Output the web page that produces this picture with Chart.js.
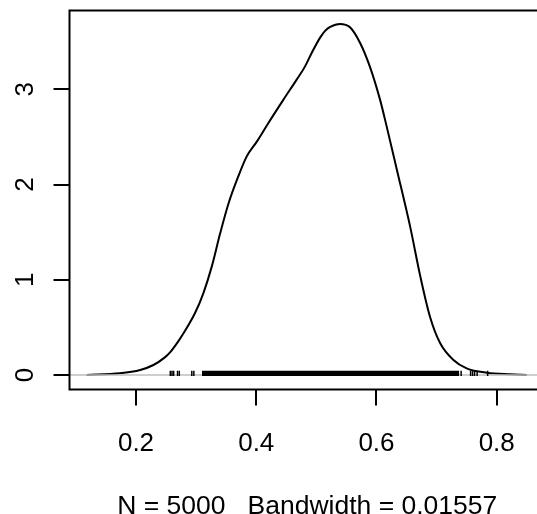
<!DOCTYPE html>
<html>
<head>
<meta charset="utf-8">
<script src="https://cdn.jsdelivr.net/npm/chart.js@4/dist/chart.umd.min.js"></script>
<style>
  html, body { margin: 0; padding: 0; background: #fff; overflow: hidden; }
  #wrap { width: 537px; height: 514px; overflow: hidden; }
</style>
</head>
<body>
<div id="wrap"><canvas id="chart" width="560" height="514"></canvas></div>
<script>
// density curve
const densityX = [0.118, 0.173, 0.207, 0.229, 0.248, 0.257, 0.270, 0.279, 0.298, 0.312,
  0.326, 0.340, 0.354, 0.370, 0.384, 0.401, 0.420, 0.445, 0.467, 0.481, 0.492, 0.506,
  0.5145, 0.523, 0.539, 0.556, 0.573, 0.589, 0.606, 0.617, 0.634, 0.656, 0.673, 0.689,
  0.706, 0.728, 0.750, 0.784, 0.822, 0.850];
const densityY = [0.000, 0.018, 0.053, 0.105, 0.185, 0.240, 0.350, 0.438, 0.648, 0.858,
  1.138, 1.488, 1.804, 2.083, 2.293, 2.451, 2.644, 2.889, 3.099, 3.238, 3.379, 3.540,
  3.613, 3.655, 3.687, 3.652, 3.484, 3.238, 2.889, 2.608, 2.153, 1.558, 1.033, 0.612,
  0.333, 0.158, 0.070, 0.024, 0.007, 0.000];

// rug: isolated ticks, plus the solid block where ticks merge
const rugTicks = [0.2571, 0.2599, 0.2626, 0.2691, 0.2720, 0.2928, 0.2962,
  0.7408, 0.7566, 0.7599, 0.7632, 0.7674, 0.7849];
const rugBand = [0.3098, 0.7374];
const rugLevel = 0.016;

const xTicks = [0.2, 0.4, 0.6, 0.8];
const yTicks = [0, 1, 2, 3];
const xRange = [0.0894, 0.8803];
const yRange = [-0.1523, 3.8275];
const xLabel = "N = 5000   Bandwidth = 0.01557";

const FONT = '26px "Liberation Sans", Arial, sans-serif';
const LABEL_FONT = '26.5px "Liberation Sans", Arial, sans-serif';

// R-style frame, outward ticks and labels
const rAxes = {
  id: "rAxes",
  afterDraw(chart) {
    const { ctx, chartArea: a, scales: { x, y } } = chart;
    ctx.save();
    ctx.strokeStyle = "#000";
    ctx.lineWidth = 2;
    ctx.strokeRect(a.left, a.top, a.right - a.left, a.bottom - a.top);

    ctx.beginPath();
    xTicks.forEach(v => {
      const px = Math.round(x.getPixelForValue(v));
      ctx.moveTo(px, a.bottom);
      ctx.lineTo(px, a.bottom + 16);
    });
    yTicks.forEach(v => {
      const py = Math.round(y.getPixelForValue(v));
      ctx.moveTo(a.left, py);
      ctx.lineTo(a.left - 16, py);
    });
    ctx.stroke();

    ctx.fillStyle = "#000";
    ctx.font = FONT;
    ctx.textAlign = "center";
    ctx.textBaseline = "alphabetic";
    xTicks.forEach(v => {
      ctx.fillText(v.toFixed(1), x.getPixelForValue(v), 451);
    });
    yTicks.forEach(v => {
      ctx.save();
      ctx.translate(33, y.getPixelForValue(v));
      ctx.rotate(-Math.PI / 2);
      ctx.fillText(String(v), 0, 0);
      ctx.restore();
    });
    ctx.font = LABEL_FONT;
    ctx.fillText(xLabel, (a.left + a.right) / 2, 513.5);
    ctx.restore();
  }
};

new Chart(document.getElementById("chart"), {
  type: "line",
  data: {
    datasets: [
      {
        // rug ticks
        type: "scatter",
        data: rugTicks.map(v => ({ x: v, y: rugLevel })),
        pointStyle: "line",
        rotation: 90,
        radius: 2.6,
        borderColor: "#000",
        borderWidth: 1.5,
        showLine: false
      },
      {
        // dense part of the rug
        data: rugBand.map(v => ({ x: v, y: rugLevel })),
        borderColor: "#000",
        borderWidth: 5.2,
        borderCapStyle: "butt",
        pointRadius: 0
      },
      {
        // zero line
        data: xRange.map(v => ({ x: v, y: 0 })),
        borderColor: "#bebebe",
        borderWidth: 1.5,
        pointRadius: 0
      },
      {
        data: densityX.map((v, i) => ({ x: v, y: densityY[i] })),
        borderColor: "#000",
        borderWidth: 2,
        cubicInterpolationMode: "monotone",
        pointRadius: 0,
        fill: false
      }
    ]
  },
  options: {
    responsive: false,
    animation: false,
    layout: { padding: { top: 10.5, right: 15, left: 0, bottom: 0 } },
    plugins: { legend: { display: false }, tooltip: { enabled: false } },
    scales: {
      x: {
        type: "linear",
        min: xRange[0],
        max: xRange[1],
        grid: { display: false },
        border: { display: false },
        ticks: { display: false },
        afterFit: s => { s.height = 124.5; }
      },
      y: {
        type: "linear",
        min: yRange[0],
        max: yRange[1],
        grid: { display: false },
        border: { display: false },
        ticks: { display: false },
        afterFit: s => { s.width = 69.5; }
      }
    }
  },
  plugins: [rAxes]
});
</script>
</body>
</html>
